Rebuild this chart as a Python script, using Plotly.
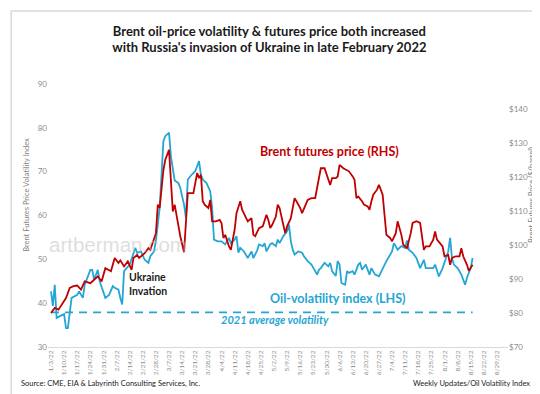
import pandas as pd
import plotly.graph_objects as go

START = "2022-01-03"

# Oil-volatility index (LHS) - days since 2022-01-03 and index value
vol_day = [0, 1, 2, 3, 5, 7, 8, 9, 10, 11,
           14, 15, 17, 18, 21, 22, 23, 25, 26, 28,
           29, 31, 33, 34, 36, 37, 38, 39, 41, 42,
           45, 46, 48, 50, 52, 53, 55, 56, 58, 60,
           61, 63, 64, 66, 68, 69, 71, 72, 73, 75,
           77, 78, 79, 80, 81, 83, 85, 86, 87, 89,
           91, 93, 95, 96, 98, 99, 100, 101, 103, 105,
           106, 107, 108, 110, 111, 113, 114, 115, 117, 118,
           120, 121, 122, 124, 126, 127, 128, 129, 130, 132,
           134, 135, 137, 139, 141, 142, 143, 144, 146, 148,
           149, 150, 152, 153, 154, 155, 157, 158, 159, 161,
           162, 164, 165, 166, 168, 170, 171, 173, 175, 177,
           179, 182, 183, 185, 187, 189, 190, 191, 193, 195,
           197, 199, 200, 202, 204, 205, 207, 209, 211, 212,
           213, 214, 215, 217, 219, 221, 222, 224, 225]
vol_value = [42.7, 39.4, 44.2, 36.6, 37.1, 37.5, 34.3, 34.3, 37.8, 41.2,
             41.9, 42.7, 41.2, 44.2, 47.6, 47.6, 45.4, 47.6, 45.0, 42.7,
             41.2, 41.9, 43.9, 43.5, 43.1, 41.2, 39.7, 47.3, 48.4, 48.8,
             52.6, 51.5, 51.8, 49.9, 49.2, 50.7, 51.8, 54.3, 61.7, 77.0,
             78.1, 78.9, 73.5, 68.0, 67.4, 66.3, 62.5, 59.5, 68.2, 69.3,
             70.1, 71.3, 72.4, 69.3, 68.2, 67.4, 65.5, 61.7, 54.5, 54.1,
             54.1, 53.4, 54.9, 53.7, 54.5, 55.3, 51.5, 52.6, 51.8, 50.3,
             51.1, 51.8, 50.3, 52.0, 53.4, 53.0, 53.7, 51.8, 53.4, 53.7,
             53.0, 54.5, 53.7, 55.3, 56.4, 57.9, 54.1, 52.2, 51.1, 51.8,
             51.5, 50.7, 49.6, 48.8, 47.3, 46.5, 47.6, 48.0, 49.2, 48.4,
             49.2, 47.3, 46.2, 49.6, 48.8, 44.6, 44.2, 47.3, 46.9, 47.3,
             46.5, 48.8, 49.2, 47.6, 48.8, 46.5, 48.0, 46.5, 46.1, 48.0,
             49.6, 51.8, 53.7, 52.2, 53.0, 52.6, 54.3, 52.2, 51.5, 50.3,
             48.0, 49.9, 48.0, 48.0, 48.0, 48.8, 46.1, 48.0, 50.3, 51.8,
             54.9, 50.3, 48.8, 48.0, 46.5, 44.2, 45.8, 48.0, 50.3]

# Brent futures price (RHS) - days since 2022-01-03 and $/barrel
brent_day = [0, 2, 4, 6, 8, 10, 12, 14, 16, 18,
             21, 23, 25, 27, 28, 29, 32, 34, 36, 37,
             39, 41, 43, 44, 46, 47, 50, 52, 53, 55,
             56, 57, 58, 60, 61, 63, 64, 65, 66, 67,
             69, 71, 72, 73, 76, 78, 79, 80, 81, 82,
             84, 85, 86, 88, 90, 91, 92, 93, 95, 96,
             97, 98, 99, 101, 102, 104, 105, 107, 108, 109,
             111, 113, 115, 116, 117, 118, 120, 121, 122, 124,
             125, 126, 128, 129, 130, 131, 133, 134, 135, 137,
             139, 141, 142, 143, 144, 146, 148, 149, 150, 152,
             153, 154, 156, 158, 159, 161, 162, 163, 164, 166,
             167, 169, 170, 171, 172, 174, 175, 176, 177, 178,
             179, 181, 182, 184, 185, 187, 188, 190, 191, 192,
             193, 195, 197, 198, 199, 200, 202, 204, 205, 206,
             209, 210, 212, 213, 214, 216, 218, 219, 220, 222,
             223, 225]
brent_price = [80.0, 81.5, 81.0, 82.9, 84.4, 87.4, 87.9, 88.1, 86.9, 89.3,
               88.8, 89.8, 90.8, 89.3, 91.3, 93.2, 92.3, 96.2, 94.7, 95.5,
               93.7, 95.2, 92.7, 96.2, 97.1, 96.2, 97.6, 99.1, 98.6, 102.1,
               103.5, 111.9, 110.9, 122.1, 125.1, 128.0, 119.7, 109.9, 111.9, 108.4,
               102.6, 97.9, 107.4, 115.3, 115.3, 121.2, 119.7, 120.7, 112.9, 111.9,
               110.9, 113.3, 107.0, 107.0, 107.4, 106.5, 102.1, 103.0, 99.6, 98.6,
               101.6, 104.5, 109.4, 112.9, 110.4, 108.4, 107.0, 107.9, 103.0, 102.6,
               105.0, 105.5, 108.9, 107.4, 105.0, 105.9, 108.4, 111.9, 110.9, 105.9,
               103.5, 105.5, 107.9, 110.9, 113.8, 112.9, 110.9, 109.4, 110.9, 113.3,
               113.8, 113.8, 116.8, 119.7, 122.6, 122.6, 119.2, 117.7, 119.7, 119.7,
               120.2, 123.6, 122.6, 122.1, 121.7, 120.2, 119.2, 113.8, 114.3, 112.9,
               111.9, 111.4, 110.4, 112.9, 114.8, 116.3, 117.7, 116.3, 114.8, 108.9,
               103.0, 102.1, 101.1, 103.5, 107.0, 103.0, 100.1, 99.1, 101.1, 103.5,
               106.5, 107.0, 106.5, 103.0, 98.6, 99.6, 99.6, 101.6, 104.0, 101.6,
               99.6, 96.7, 97.1, 94.2, 96.2, 96.7, 96.7, 99.1, 96.7, 94.2,
               92.4, 94.2]

avg_2021_volatility = 37.9

tick_labels = ["1/3/22", "1/10/22", "1/17/22", "1/24/22", "1/31/22", "2/7/22", "2/14/22",
               "2/21/22", "2/28/22", "3/7/22", "3/14/22", "3/21/22", "3/28/22", "4/4/22",
               "4/11/22", "4/18/22", "4/25/22", "5/2/22", "5/9/22", "5/16/22", "5/23/22",
               "5/30/22", "6/6/22", "6/13/22", "6/20/22", "6/27/22", "7/4/22", "7/11/22",
               "7/18/22", "7/25/22", "8/1/22", "8/8/22", "8/15/22", "8/22/22", "8/29/22"]
left_ticks = [30, 40, 50, 60, 70, 80, 90]
right_ticks = [70, 80, 90, 100, 110, 120, 130, 140]

start = pd.Timestamp(START)
vol_dates = start + pd.to_timedelta(vol_day, unit="D")
brent_dates = start + pd.to_timedelta(brent_day, unit="D")
tick_dates = pd.to_datetime(tick_labels, format="%m/%d/%y")

BLUE = "#25A5D4"
RED = "#C00000"
FONT = "Lato"

fig = go.Figure()
fig.add_trace(go.Scatter(x=vol_dates, y=vol_value, mode="lines",
                         line=dict(color=BLUE, width=1.8), name="Oil-volatility index"))
fig.add_trace(go.Scatter(x=[vol_dates[0], vol_dates[-1]],
                         y=[avg_2021_volatility, avg_2021_volatility], mode="lines",
                         line=dict(color=BLUE, width=1.6, dash="8px,6px"), name="2021 average"))
fig.add_trace(go.Scatter(x=brent_dates, y=brent_price, mode="lines", yaxis="y2",
                         line=dict(color=RED, width=1.8), name="Brent futures price"))

fig.update_layout(
    width=540, height=394,
    margin=dict(l=40, r=40, t=76, b=55),
    paper_bgcolor="white", plot_bgcolor="white",
    showlegend=False,
    font=dict(family=FONT, color="#7f7f7f"),
    title=dict(text="<b>Brent oil-price volatility & futures price both increased<br>"
                    "with Russia's invasion of Ukraine in late February 2022</b>",
               x=0.484, xanchor="center", y=0.930, yanchor="middle",
               font=dict(family=FONT, size=13, color="#1a1a1a")),
    xaxis=dict(type="date", range=["2022-01-01 09:36", "2022-09-03 21:36"],
               tickmode="array", tickvals=tick_dates, ticktext=tick_labels,
               tickangle=-90, tickfont=dict(size=6.5, color="#8c8c8c"),
               showgrid=False, zeroline=False, showline=True,
               linecolor="#d9d9d9", linewidth=1, ticks=""),
    yaxis=dict(range=[30, 90], tickvals=left_ticks, showgrid=False, zeroline=False,
               showline=False, ticks="", tickfont=dict(size=8, color="#8c8c8c")),
    yaxis2=dict(range=[70, 147.4], overlaying="y", side="right", tickvals=right_ticks,
                ticktext=["$" + str(v) for v in right_ticks], showgrid=False,
                zeroline=False, showline=False, ticks="",
                tickfont=dict(size=8, color="#8c8c8c")),
)

anns = [
    dict(text="<b>Brent futures price (RHS)</b>", x=0.612, y=0.745,
         font=dict(size=12.5, color=RED)),
    dict(text="<b>Oil-volatility index (LHS)</b>", x=0.630, y=0.183,
         font=dict(size=12.5, color=BLUE)),
    dict(text="<b><i>2021 average volatility</i></b>", x=0.494, y=0.103,
         font=dict(size=11, color=BLUE)),
    dict(text="<b>Ukraine<br>Invation</b>", x=0.172, y=0.238, xanchor="left", align="left",
         font=dict(size=10.5, color="#1a1a1a")),
    dict(text="artberman.com", x=0.152, y=0.388,
         font=dict(family="Liberation Sans", size=20.5, color="rgba(190,190,190,0.5)")),
    dict(text="Brent Futures Price Volatility Index", x=-0.046, y=0.578, textangle=-90,
         font=dict(size=7.5, color="#7f7f7f")),
    dict(text="Brent Futures Price ($/barrel)", x=1.052, y=0.578, textangle=-90,
         font=dict(size=7.5, color="#7f7f7f")),
    dict(text="Source: CME, EIA & Labyrinth Consulting Services, Inc.", x=-0.063, y=-0.138,
         xanchor="left", font=dict(size=7.5, color="#1a1a1a")),
    dict(text="Weekly Updates/Oil Volatility Index", x=1.052, y=-0.138, xanchor="right",
         font=dict(size=7.5, color="#1a1a1a")),
]
for a in anns:
    a.setdefault("xanchor", "center")
    a.update(xref="paper", yref="paper", showarrow=False, yanchor="middle")
    a["font"].setdefault("family", FONT)
    fig.add_annotation(**a)

fig.add_shape(type="rect", xref="paper", yref="paper", x0=-0.080, x1=1.080,
              y0=-0.198, y1=1.278, line=dict(color="#d9d9d9", width=1.5), layer="below")

fig.write_html("out.html")
